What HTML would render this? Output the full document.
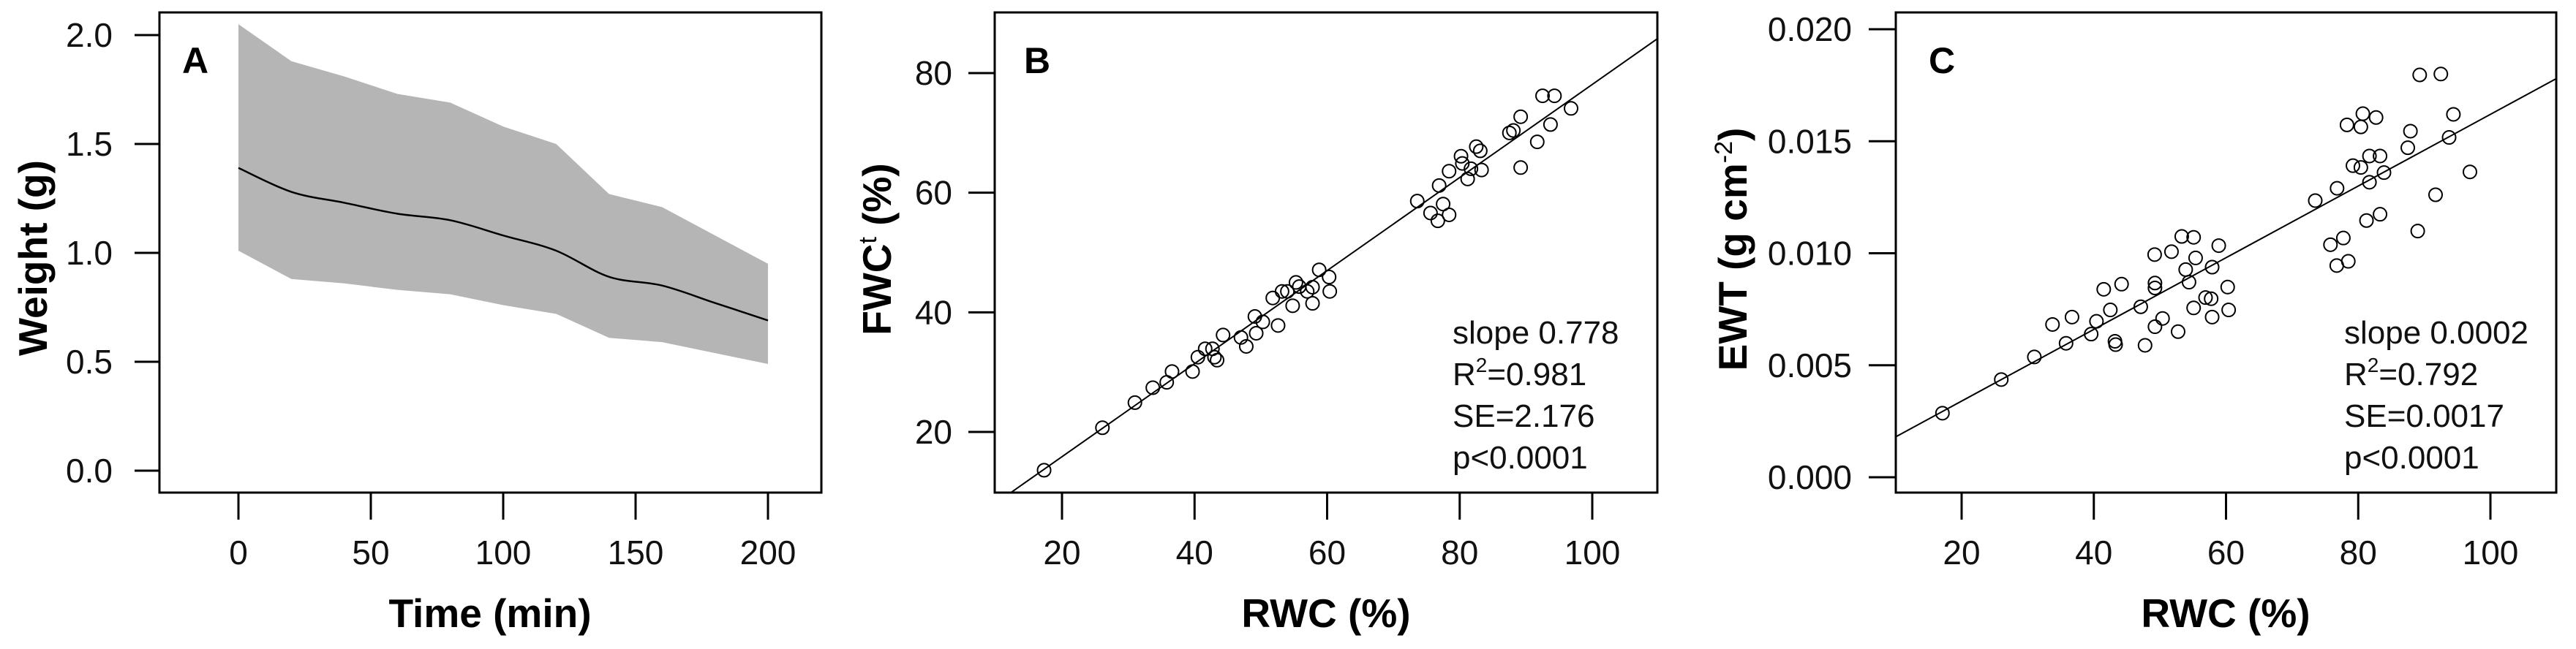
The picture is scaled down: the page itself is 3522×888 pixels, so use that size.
<!DOCTYPE html>
<html><head><meta charset="utf-8"><style>
html,body{margin:0;padding:0;background:#fff;}
svg{display:block;font-family:"Liberation Sans",sans-serif;}
</style></head><body>
<svg id="chart" width="3522" height="888" viewBox="0 0 3522 888" xmlns="http://www.w3.org/2000/svg"></svg>
<script>
// Panel A data
const timeMin = [0,20,40,60,80,100,120,140,160,180,200];
const weightMean = [1.39,1.28,1.23,1.18,1.15,1.08,1.01,0.89,0.85,0.77,0.69];
const weightUpper = [2.05,1.88,1.81,1.73,1.69,1.58,1.50,1.27,1.21,1.08,0.95];
const weightLower = [1.01,0.88,0.86,0.83,0.81,0.76,0.72,0.61,0.59,0.54,0.49];
const aXTicks = [0,50,100,150,200];
const aYTicks = [0.0,0.5,1.0,1.5,2.0];
// Panel B data
const rwcB = [17.3,26.1,31.0,33.7,35.8,36.6,39.7,40.5,41.6,42.7,43.0,43.4,44.3,47.0,47.8,49.1,49.3,50.3,52.6,51.8,53.2,54.0,54.8,55.3,55.8,57.0,57.8,57.8,58.8,60.3,60.4,73.6,75.6,76.7,76.9,77.5,78.4,78.4,80.2,80.4,81.2,81.7,82.5,83.1,83.3,87.5,88.1,89.2,89.2,91.7,92.5,93.7,94.3,96.8];
const fwcB = [13.6,20.7,24.9,27.4,28.3,30.1,30.1,32.5,33.9,33.9,32.5,32.0,36.2,35.8,34.3,39.3,36.5,38.4,37.8,42.4,43.5,43.5,41.1,45.0,44.3,43.5,44.2,41.5,47.1,45.9,43.5,58.6,56.6,55.3,61.2,58.1,56.3,63.6,66.1,64.9,62.3,64.0,67.7,67.0,63.8,70.0,70.4,72.7,64.2,68.5,76.2,71.4,76.2,74.1];
const fitB = [0.3,0.778];
const bXTicks = [20,40,60,80,100];
const bYTicks = [20,40,60,80];
const statsB = ["slope 0.778","R|2|=0.981","SE=2.176","p<0.0001"];
// Panel C data
const rwcC = [17.1,26.0,31.0,33.75,35.8,36.7,39.6,40.4,41.5,42.5,43.2,43.3,44.2,47.1,47.75,49.2,49.25,49.25,49.25,50.4,51.75,52.75,53.3,53.9,54.4,55.1,55.4,55.1,56.9,57.75,57.9,57.9,58.9,60.25,60.4,73.5,75.8,76.75,76.8,77.75,78.3,78.5,79.2,80.4,80.7,80.4,81.25,81.7,81.7,82.7,83.3,83.3,83.9,87.5,87.9,89.0,89.3,91.7,92.5,93.75,94.4,96.9];
const ewtC = [0.00286,0.00436,0.00537,0.00682,0.00598,0.00715,0.00639,0.00696,0.00839,0.00747,0.00607,0.00592,0.00862,0.00761,0.00589,0.00994,0.00867,0.00845,0.00672,0.00709,0.01007,0.0065,0.01075,0.00927,0.00871,0.01071,0.00979,0.00756,0.00802,0.00797,0.00938,0.00715,0.01034,0.00849,0.00747,0.01235,0.01038,0.00945,0.0129,0.01068,0.01573,0.00964,0.01391,0.01564,0.01623,0.01383,0.01146,0.01317,0.01434,0.01606,0.01434,0.01174,0.0136,0.01471,0.01545,0.01099,0.01796,0.01261,0.018,0.01517,0.0162,0.01363];
const fitC = [0.0002,0.00016];
const cXTicks = [20,40,60,80,100];
const cYTicks = [0.000,0.005,0.010,0.015,0.020];
const statsC = ["slope 0.0002","R|2|=0.792","SE=0.0017","p<0.0001"];

const NS="http://www.w3.org/2000/svg";
const svg=document.getElementById('chart');
function mk(tag,attrs,parent){const e=document.createElementNS(NS,tag);for(const k in attrs)e.setAttribute(k,attrs[k]);(parent||svg).appendChild(e);return e;}
function scale(d0,d1,r0,r1){return v=>r0+(v-d0)/(d1-d0)*(r1-r0);}

function frame(g,box,xs,ys,xt,yt,xfmt,yfmt,yLabX,yTickX0){
  const r=mk('rect',{x:box.x0,y:box.y0,width:box.x1-box.x0,height:box.y1-box.y0,fill:'none',stroke:'#000','stroke-width':3},g);
  
  
  xt.forEach(v=>{
    const t=mk('line',{x1:xs(v),x2:xs(v),y1:box.y1,y2:711,stroke:'#000','stroke-width':3},g);
    
    
    const l=mk('text',{x:xs(v),y:772,'font-size':46,'text-anchor':'middle',fill:'#111'},g);
    l.textContent=xfmt(v);
    
    
  });
  yt.forEach(v=>{
    const t=mk('line',{x1:yTickX0,x2:box.x0,y1:ys(v),y2:ys(v),stroke:'#000','stroke-width':3},g);
    
    
    const l=mk('text',{x:yLabX,y:ys(v)+16,'font-size':46,'text-anchor':'end',fill:'#111'},g);
    l.textContent=yfmt(v);
    
    
  });
}
function txt(g,x,y,s,attrs,name){const t=mk('text',Object.assign({x:x,y:y},attrs),g);t.textContent=s;return t;}
function smoothPath(pts){
  let d='M'+pts[0][0]+','+pts[0][1];
  for(let i=0;i<pts.length-1;i++){
    const p0=pts[Math.max(0,i-1)],p1=pts[i],p2=pts[i+1],p3=pts[Math.min(pts.length-1,i+2)];
    const c1=[p1[0]+(p2[0]-p0[0])/6,p1[1]+(p2[1]-p0[1])/6];
    const c2=[p2[0]-(p3[0]-p1[0])/6,p2[1]-(p3[1]-p1[1])/6];
    d+=' C'+c1[0]+','+c1[1]+' '+c2[0]+','+c2[1]+' '+p2[0]+','+p2[1];
  }
  return d;
}

// ---------- Panel A ----------
{
  const g=mk('g',{});
  
  
  const box={x0:218,x1:1123,y0:17,y1:674};
  const xs=scale(0,200,326,1050), ys=scale(0,2,644,48);
  let d='M'+timeMin.map((t,i)=>xs(t)+','+ys(weightUpper[i])).join(' L');
  for(let i=timeMin.length-1;i>=0;i--) d+=' L'+xs(timeMin[i])+','+ys(weightLower[i]);
  const band=mk('path',{d:d+' Z',fill:'#b5b5b5',stroke:'none'},g);
  
  
  const ln=mk('path',{d:smoothPath(timeMin.map((t,i)=>[xs(t),ys(weightMean[i])])),fill:'none',stroke:'#000','stroke-width':2.5,'stroke-linejoin':'round'},g);
  
  
  frame(g,box,xs,ys,aXTicks,aYTicks,v=>String(v),v=>v.toFixed(1),154,184);
  txt(g,249,100,'A',{'font-size':50,'font-weight':'bold'},'panel-label-a');
  txt(g,670,858,'Time (min)',{'font-size':55,'font-weight':'bold','text-anchor':'middle'},'x-axis-title');
  txt(g,0,0,'Weight (g)',{'font-size':55,'font-weight':'bold','text-anchor':'middle',transform:'translate(64,353) rotate(-90)'},'y-axis-title');
}

function scatterPanel(name,box,xs,ys,xv,yv,fit,xt,yt,yfmt,yLabX,yTickX0,label,labX,stats,statX,ytitle,ytX,xtitleX){
  const g=mk('g',{});
  
  
  const clip=mk('clipPath',{id:name+'-clip'},g);
  mk('rect',{x:box.x0,y:box.y0,width:box.x1-box.x0,height:box.y1-box.y0},clip);
  const x0=10,x1=110;
  const fl=mk('line',{x1:xs(x0),y1:ys(fit[0]+fit[1]*x0),x2:xs(x1),y2:ys(fit[0]+fit[1]*x1),stroke:'#000','stroke-width':2,'clip-path':'url(#'+name+'-clip)'},g);
  
  
  xv.forEach((v,i)=>{
    const c=mk('circle',{cx:xs(v),cy:ys(yv[i]),r:9,fill:'none',stroke:'#000','stroke-width':2},g);
    
    
  });
  frame(g,box,xs,ys,xt,yt,v=>String(v),yfmt,yLabX,yTickX0);
  txt(g,labX,100,label,{'font-size':50,'font-weight':'bold'},'panel-label');
  stats.forEach((s,i)=>{
    const y=470+i*57;
    const t=mk('text',{x:statX,y:y,'font-size':44,fill:'#111'},g);
    
    
    const parts=s.split('|');
    if(parts.length===3){
      t.appendChild(document.createTextNode(parts[0]));
      const sp=document.createElementNS(NS,'tspan');sp.setAttribute('dy','-18');sp.setAttribute('font-size','28');sp.textContent=parts[1];t.appendChild(sp);
      const sp2=document.createElementNS(NS,'tspan');sp2.setAttribute('dy','18');sp2.textContent=parts[2];t.appendChild(sp2);
    } else t.textContent=s;
  });
  txt(g,xtitleX,858,'RWC (%)',{'font-size':55,'font-weight':'bold','text-anchor':'middle'},'x-axis-title');
  const yt2=mk('text',{'font-size':55,'font-weight':'bold','text-anchor':'middle',transform:'translate('+ytX+',341) rotate(-90)'},g);
  
  
  ytitle.forEach(p=>{const s=document.createElementNS(NS,'tspan');if(p.sup){s.setAttribute('dy','-20');s.setAttribute('font-size','34');s.setAttribute('font-weight','normal');}else if(p.back){s.setAttribute('dy','20');}s.textContent=p.t;yt2.appendChild(s);});
}

scatterPanel('panel-b',{x0:1360,x1:2266,y0:17,y1:674},scale(20,100,1452,2177),scale(20,80,591,100),rwcB,fwcB,fitB,bXTicks,bYTicks,v=>String(v),1302,1324,'B',1400,statsB,1986,[{t:'FWC'},{t:'t',sup:true},{t:' (%)',back:true}],1218,1813);
scatterPanel('panel-c',{x0:2592,x1:3495,y0:17,y1:674},scale(20,100,2682,3405),scale(0,0.02,653,40),rwcC,ewtC,fitC,cXTicks,cYTicks,v=>v.toFixed(3),2532,2555,'C',2637,statsC,3205,[{t:'EWT (g cm'},{t:'-2',sup:true},{t:')',back:true}],2388,3043);
</script>
</body></html>
